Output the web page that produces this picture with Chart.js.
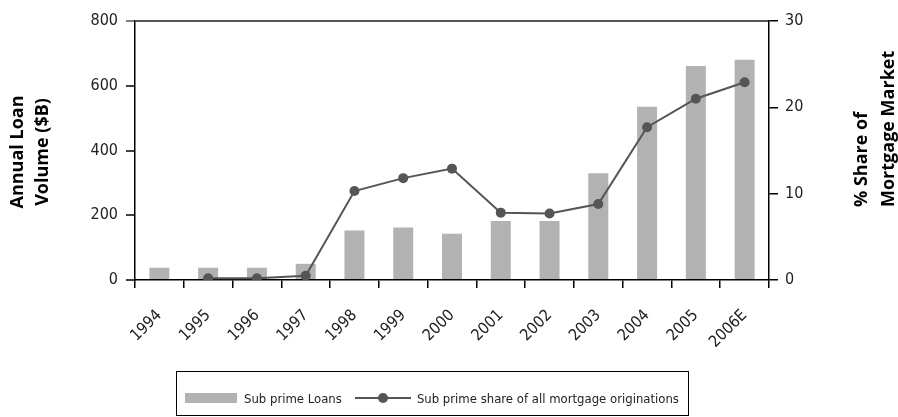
<!DOCTYPE html>
<html>
<head>
<meta charset="utf-8">
<script src="https://cdn.jsdelivr.net/npm/chart.js@4"></script>
<style>
  html, body { margin: 0; padding: 0; background: #fff; }
  #wrap { position: relative; width: 898px; height: 417px; }
  #legend {
    position: absolute; left: 176px; top: 371px; height: 45px;
    box-sizing: border-box; border: 1.5px solid #000;
    padding: 9px 9px 0 8px;
    display: flex; align-items: center;
    font: 13px "Liberation Sans Narrow", "DejaVu Sans Condensed", sans-serif;
    color: #222; white-space: nowrap;
  }
  .swatch { display: inline-block; width: 52px; height: 10px; background: #b2b2b2; margin-right: 7px; }
  .linekey { position: relative; display: inline-block; width: 56px; height: 10px; margin: 0 6px 0 13px; }
  .linekey::before { content: ""; position: absolute; left: 0; right: 0; top: 4px; height: 2px; background: #555; }
  .linekey i { position: absolute; left: 23px; top: 0; width: 10px; height: 10px; border-radius: 50%; background: #555; }
</style>
</head>
<body>
<div id="wrap">
  <canvas id="chart" width="898" height="417"></canvas>
  <div id="legend">
    <span class="swatch"></span><span id="barName"></span>
    <span class="linekey"><i></i></span><span id="lineName"></span>
  </div>
</div>
<script>
// Data
const years = ['1994', '1995', '1996', '1997', '1998', '1999', '2000', '2001', '2002', '2003', '2004', '2005', '2006E'];
const loanVolume = [38, 38, 38, 50, 153, 162, 143, 182, 182, 330, 535, 661, 680];   // $B, left axis
const marketShare = [null, 0.2, 0.2, 0.5, 10.3, 11.8, 12.9, 7.8, 7.7, 8.8, 17.7, 21.0, 22.9]; // %, right axis
const barName = 'Sub prime Loans';
const lineName = 'Sub prime share of all mortgage originations';
const leftTitle = ['Annual Loan', 'Volume ($B)'];
const rightTitle = ['% Share of', 'Mortgage Market'];

document.getElementById('barName').textContent = barName;
document.getElementById('lineName').textContent = lineName;

const tickFont = size => ({ family: '"Liberation Sans Narrow", "DejaVu Sans Condensed", sans-serif', size: size });

// Rotated axis titles (the right one reads bottom-to-top like the left one)
const axisTitles = {
  id: 'axisTitles',
  afterDraw(chart) {
    const ctx = chart.ctx;
    ctx.save();
    ctx.font = 'bold 18px "Open Sans", sans-serif';
    ctx.fillStyle = '#000';
    ctx.textBaseline = 'middle';
    leftTitle.forEach((line, i) => {
      ctx.save();
      ctx.translate(18 + i * 25, 152);
      ctx.rotate(-Math.PI / 2);
      ctx.textAlign = 'center';
      ctx.fillText(line, 0, 0);
      ctx.restore();
    });
    rightTitle.forEach((line, i) => {
      ctx.save();
      ctx.translate(862 + i * 27, 207);
      ctx.rotate(-Math.PI / 2);
      ctx.textAlign = 'left';
      ctx.fillText(line, 0, 0);
      ctx.restore();
    });
    ctx.restore();
  }
};

new Chart(document.getElementById('chart').getContext('2d'), {
  type: 'bar',
  data: {
    labels: years,
    datasets: [
      {
        type: 'line',
        label: lineName,
        data: marketShare,
        yAxisID: 'y1',
        order: 0,
        borderColor: '#555',
        borderWidth: 2,
        pointRadius: 5,
        pointBorderWidth: 0,
        pointBackgroundColor: '#555',
        tension: 0
      },
      {
        type: 'bar',
        label: barName,
        data: loanVolume,
        yAxisID: 'y',
        order: 1,
        backgroundColor: '#b2b2b2',
        categoryPercentage: 1,
        barPercentage: 0.41
      }
    ]
  },
  options: {
    responsive: false,
    animation: false,
    layout: { padding: { top: 21, left: 0, right: 0, bottom: 0 } },
    plugins: { legend: { display: false }, tooltip: { enabled: false } },
    scales: {
      x: {
        afterFit(s) { s.height = 137; },
        border: { color: '#000', width: 1.5 },
        grid: { offset: true, drawOnChartArea: false, tickLength: 8, color: '#000', lineWidth: 1.5 },
        ticks: { font: tickFont(16), color: '#222', minRotation: 45, maxRotation: 45, autoSkip: false, padding: 18 }
      },
      y: {
        position: 'left',
        min: 0,
        max: 800,
        afterFit(s) { s.width = 135; },
        border: { color: '#000', width: 1.5 },
        grid: {
          tickLength: 9,
          color: c => (c.tick && c.tick.value === 800 ? '#555' : 'rgba(0,0,0,0)'),
          lineWidth: 2,
          tickColor: c => (c.tick && c.tick.value === 800 ? '#555' : '#000'),
          tickWidth: 1.5
        },
        ticks: { stepSize: 200, font: tickFont(16), color: '#222', padding: 8 }
      },
      y1: {
        position: 'right',
        min: 0,
        max: 30,
        afterFit(s) { s.width = 129; },
        border: { color: '#000', width: 1.5 },
        grid: { drawOnChartArea: false, tickLength: 9, color: '#000', lineWidth: 1.5 },
        ticks: { stepSize: 10, font: tickFont(16), color: '#222', padding: 7 }
      }
    }
  },
  plugins: [axisTitles]
});
</script>
</body>
</html>
